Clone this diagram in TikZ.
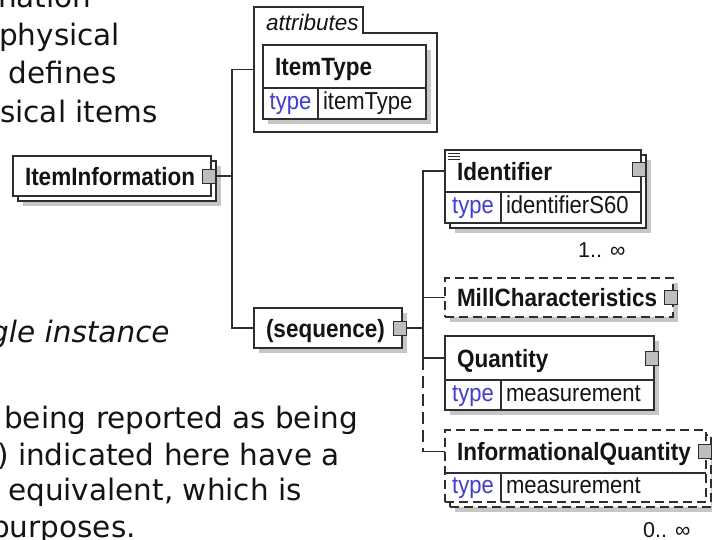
\documentclass[tikz,border=0pt]{standalone}
\usepackage{fontspec}
\usepackage{tikz}
\usetikzlibrary{shadows}
\setmainfont{DejaVu Sans}
\newfontfamily\xsdfont[FakeStretch=0.9]{Liberation Sans}
\newfontfamily\xsdplain{Liberation Sans}
\definecolor{XSLine}{HTML}{2E2E2E}
\definecolor{XSShade}{HTML}{C6C6C6}
\definecolor{XSPlus}{HTML}{BEBEBE}
\definecolor{XSBlue}{HTML}{3A3AF5}
\definecolor{XSText}{HTML}{141414}

\tikzset{
  xbox/.style={draw=XSLine, fill=white, line width=1.2pt, inner sep=0pt, outer sep=0pt, anchor=north west},
  xopt/.style={dash pattern=on 9pt off 5pt},
  xshade/.style={drop shadow={shadow xshift=5pt, shadow yshift=-5pt, fill=XSShade, opacity=1, draw=none}},
  xstack/.style={drop shadow={shadow xshift=10pt, shadow yshift=-10pt, fill=XSShade, opacity=1, draw=none},
    copy shadow={shadow xshift=5pt, shadow yshift=-5pt, draw=XSLine, fill=white, line width=1.2pt, #1}},
  xstack/.default={solid},
  xname/.style={anchor=north west, inner xsep=12pt, inner ysep=0pt, outer sep=0pt, align=left,
    text height=18pt, text depth=0pt, text=XSText, font=\xsdfont\bfseries\fontsize{25}{28}\selectfont},
  xkey/.style={anchor=north west, inner sep=0pt, outer sep=0pt, minimum height=30pt,
    text height=12.5pt, text depth=0pt, text=XSBlue, font=\xsdfont\fontsize{24.5}{28}\selectfont},
  xval/.style={anchor=west, inner sep=0pt, outer sep=0pt, text height=12.5pt, text depth=0pt,
    text=XSText, font=\xsdfont\fontsize{24.5}{28}\selectfont},
  xplus/.style={draw=XSLine, fill=XSPlus, line width=1pt, minimum width=13pt, minimum height=14pt, inner sep=0pt, outer sep=0pt},
  xlink/.style={draw=XSLine, line width=1.2pt},
  xmult/.style={anchor=base west, inner sep=0pt, text=XSText, font=\xsdplain\fontsize{21.5}{24}\selectfont},
  xnote/.style={anchor=base west, inner sep=0pt, text=XSText, font=\fontsize{29.5}{36}\selectfont}
}

\begin{document}
\begin{tikzpicture}[x=1pt,y=-1pt]
\path[use as bounding box] (0,0) rectangle (712,539);
\clip (0,0) rectangle (712,539);

% text of the page, cut by the frame
\node[xnote] (noteA) at (-2,7) {nation};
\node[xnote] (noteB) at (-1,45) {physical};
\node[xnote] (noteC) at (8.5,83) {defines};
\node[xnote] (noteD) at (0,122) {sical items};
\node[xnote,font=\itshape\fontsize{29.5}{36}\selectfont] (noteE) at (-10,342) {gle instance};
\node[xnote] (noteF) at (4,428) {being reported as being};
\node[xnote] (noteG) at (-3,465) {) indicated here have a};
\node[xnote] (noteH) at (8,500) {equivalent, which is};
\node[xnote] (noteI) at (-9,537) {purposes.};

% root element
\node[xbox, xstack, xname, text width=174pt, minimum height=40pt] (info) at (13,156) {ItemInformation};
\node[xplus] (infoP) at ([xshift=-2pt]info.east) {};
\coordinate (fork1) at (232,176);

% attributes
\node[anchor=north west, minimum width=183pt, minimum height=125pt, inner sep=0pt, outer sep=0pt] (attr) at (254,7) {};
\draw[xlink] (attr.north west) -- ([xshift=109pt]attr.north west) |- ([yshift=-26pt]attr.north east)
  -- (attr.south east) -- (attr.south west) -- cycle;
\node[anchor=base west, inner sep=0pt, text=XSText, font=\xsdplain\itshape\fontsize{22.5}{26}\selectfont] (attrTag) at ([shift={(12,23)}]attr.north west) {attributes};

\node[xbox, xshade, minimum width=163pt, minimum height=74pt] (typeBox) at (263,45) {};
\node[xname, text width=139pt, minimum height=43pt] (itype) at (typeBox.north west) {ItemType};
\node[xkey, minimum width=55pt] (itypeK) at (itype.south west) {type};
\node[xval] (itypeV) at ([xshift=5pt]itypeK.east) {itemType};
\draw[xlink] (itype.south west) -- (itype.south east);
\draw[xlink] (itypeK.north east) -- (itypeK.north east |- typeBox.south);

% sequence
\node[xbox, xshade, xname, text width=124pt, minimum height=40pt] (seq) at (254,308) {(sequence)};
\node[xplus] (seqP) at ([xshift=-2pt]seq.east) {};
\coordinate (fork2) at (423,328);

\draw[xlink] (infoP.east) -- (fork1);
\draw[xlink] (attr.west) -| (fork1) |- (seq.west);

% children
\node[xbox, xstack, minimum width=196pt, minimum height=73pt] (identBox) at (445,150) {};
\node[xname, text width=172pt, minimum height=42pt] (ident) at (identBox.north west) {Identifier};
\node[xkey, minimum width=56pt] (identK) at (ident.south west) {type};
\node[xval] (identV) at ([xshift=5pt]identK.east) {identifierS60};
\draw[xlink] (ident.south west) -- (ident.south east);
\draw[xlink] (identK.north east) -- (identK.north east |- identBox.south);
\foreach \dy in {3,6,9}
  \draw[XSLine, line width=0.8pt] ([shift={(3,\dy)}]identBox.north west) -- ++(12,0);
\node[xplus] (identP) at ([xshift=-2pt,yshift=2pt]ident.east) {};
\node[xmult] (identOcc) at ([shift={(-63,34)}]identBox.south east) {1.. ∞};

\node[xbox, xopt, xshade, xname, text width=204pt, minimum height=39pt] (mill) at (445,278) {MillCharacteristics};
\node[xplus] (millP) at ([xshift=-2pt]mill.east) {};

\node[xbox, xshade, minimum width=209pt, minimum height=74pt] (qtyBox) at (445,336) {};
\node[xname, text width=185pt, minimum height=44pt] (qty) at (qtyBox.north west) {Quantity};
\node[xkey, minimum width=56pt] (qtyK) at (qty.south west) {type};
\node[xval] (qtyV) at ([xshift=5pt]qtyK.east) {measurement};
\draw[xlink] (qty.south west) -- (qty.south east);
\draw[xlink] (qtyK.north east) -- (qtyK.north east |- qtyBox.south);
\node[xplus] (qtyP) at ([xshift=-2pt]qty.east) {};

\node[xbox, xopt, xstack={xopt}, minimum width=261pt, minimum height=72pt] (infoqBox) at (445,430) {};
\node[xname, text width=237pt, minimum height=43pt] (infoq) at (infoqBox.north west) {InformationalQuantity};
\node[xkey, minimum width=56pt, minimum height=29pt] (infoqK) at (infoq.south west) {type};
\node[xval] (infoqV) at ([xshift=5pt]infoqK.east) {measurement};
\draw[xlink] (infoq.south west) -- (infoq.south east);
\draw[xlink] (infoqK.north east) -- (infoqK.north east |- infoqBox.south);
\node[xplus] (infoqP) at ([xshift=-1pt]infoq.east) {};
\node[xmult] (infoqOcc) at ([shift={(-63,35)}]infoqBox.south east) {0.. ∞};

\draw[xlink] (seqP.east) -- (fork2);
\draw[xlink] (ident.west) -| (fork2) |- (qty.west);
\draw[xlink] (mill.west) -- (mill.west -| fork2);
\draw[xlink, dash pattern=on 12pt off 6pt] (qty.west -| fork2) -- (infoq.west -| fork2);
\draw[xlink] (infoq.west -| fork2) -- (infoq.west);
\end{tikzpicture}
\end{document}
